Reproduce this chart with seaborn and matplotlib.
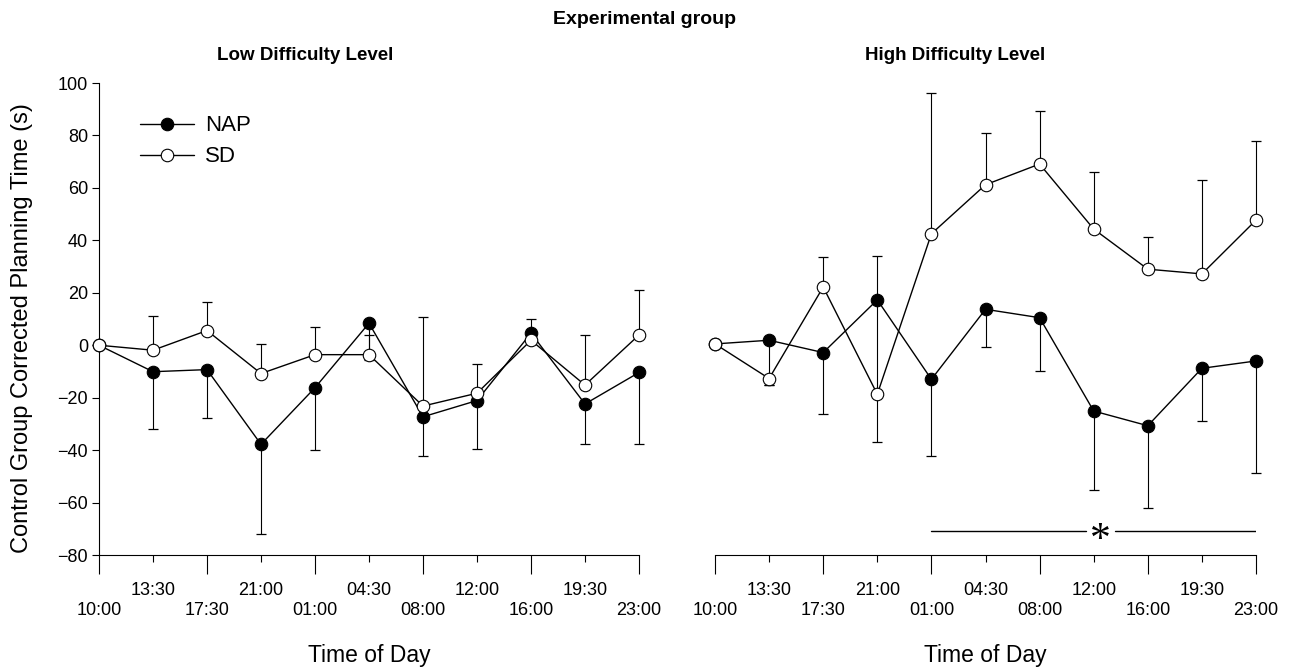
import numpy as np
import pandas as pd
import matplotlib
matplotlib.use("Agg")
import matplotlib.pyplot as plt
import seaborn as sns

sns.set_style("ticks")
plt.rcParams["font.family"] = ["Liberation Sans", "DejaVu Sans"]
for k in ["text.color", "axes.labelcolor", "xtick.color", "ytick.color",
          "axes.edgecolor"]:
    plt.rcParams[k] = "black"

# ---- data ----
times = ["10:00", "13:30", "17:30", "21:00", "01:00", "04:30",
         "08:00", "12:00", "16:00", "19:30", "23:00"]

low_nap = [0, -10.1, -9.3, -37.8, -16.2, 8.4, -27.3, -21.1, 4.6, -22.4, -10.4]
low_sd = [0, -1.9, 5.6, -10.8, -3.6, -3.6, -23.2, -18.3, 1.9, -15.2, 3.9]
# one-sided error extents
low_nap_err_down = [0, 21.9, 18.6, 34.3, 23.8, 14.1, 15.1, 18.3, 2.0, 15.4, 27.4]
low_nap_err_up = [0] * 11
low_sd_err_up = [0, 13.1, 10.8, 11.3, 10.4, 7.6, 34.1, 11.0, 8.0, 19.0, 17.1]
low_sd_err_down = [0] * 11

high_nap = [0.5, 1.9, -2.8, 17.3, -13.0, 13.7, 10.5, -25.1, -30.7, -8.8, -6.0]
high_sd = [0.5, -12.7, 22.2, -18.7, 42.5, 61.2, 69.1, 44.3, 29.0, 27.2, 47.7]
high_nap_err_down = [0, 17.1, 23.5, 36.0, 29.3, 14.2, 20.3, 30.1, 31.5, 20.0, 42.9]
high_nap_err_up = [0, 0, 0, 16.7, 0, 0, 0, 0, 0, 0, 0]
high_sd_err_up = [0, 0, 11.3, 0, 53.6, 19.9, 20.2, 21.7, 12.4, 35.9, 30.3]
high_sd_err_down = [0, 2.5, 0, 18.1, 0, 0, 0, 0, 0, 0, 0]

sig_start, sig_end, sig_star, sig_y = 4, 10, 7.12, -71

major_idx = [0, 2, 4, 6, 8, 10]
minor_idx = [1, 3, 5, 7, 9]

x = np.arange(len(times))

fig = plt.figure(figsize=(12.89, 6.67), dpi=100)
W, H = 1289, 667
ax_l = fig.add_axes([99 / W, 1 - 555 / H, 540 / W, 472 / H])
ax_r = fig.add_axes([715 / W, 1 - 555 / H, 541 / W, 472 / H])


def bars(ax, ys, down, up):
    ys = np.asarray(ys, float)
    down = np.asarray(down, float)
    up = np.asarray(up, float)
    for err, sign in [(down, -1), (up, 1)]:
        m = err > 0
        if not m.any():
            continue
        z = np.zeros(m.sum())
        yerr = [err[m], z] if sign < 0 else [z, err[m]]
        ax.errorbar(x[m], ys[m], yerr=yerr, fmt="none", ecolor="black",
                    elinewidth=0.8, capsize=0, zorder=2, clip_on=False)
        ax.plot(x[m], ys[m] + sign * err[m], linestyle="none", marker="_",
                markersize=7.5, markeredgewidth=0.9, color="black", zorder=2,
                clip_on=False)


def panel(ax, nap, sd, nd, nu, sdd, sdu):
    df = pd.DataFrame({"x": np.concatenate([x, x]),
                       "y": np.concatenate([nap, sd]),
                       "group": ["NAP"] * len(x) + ["SD"] * len(x)})
    bars(ax, nap, nd, nu)
    bars(ax, sd, sdd, sdu)
    sns.lineplot(data=df[df.group == "NAP"], x="x", y="y", ax=ax, color="black",
                 marker="o", markersize=9, markerfacecolor="black",
                 markeredgecolor="black", markeredgewidth=0.8, linewidth=1.0,
                 label="NAP", zorder=3, clip_on=False)
    sns.lineplot(data=df[df.group == "SD"], x="x", y="y", ax=ax, color="black",
                 marker="o", markersize=9, markerfacecolor="white",
                 markeredgecolor="black", markeredgewidth=0.8, linewidth=1.0,
                 label="SD", zorder=4, clip_on=False)
    ax.set_xlim(0, 10)
    ax.set_ylim(-80, 100)
    ax.set_xticks(major_idx)
    ax.set_xticklabels([times[i] for i in major_idx])
    ax.set_xticks(minor_idx, minor=True)
    ax.set_xticklabels([times[i] for i in minor_idx], minor=True)
    ax.tick_params(axis="x", which="major", length=14, width=0.8, pad=19.5,
                   labelsize=13, direction="out")
    ax.tick_params(axis="x", which="minor", length=5, width=0.8, pad=14.5,
                   labelsize=13, direction="out")
    ax.set_xlabel("Time of Day", fontsize=16.5, labelpad=18)
    for s in ["top", "right"]:
        ax.spines[s].set_visible(False)
    ax.spines["bottom"].set_linewidth(0.8)
    ax.spines["left"].set_linewidth(0.8)


panel(ax_l, low_nap, low_sd, low_nap_err_down, low_nap_err_up,
      low_sd_err_down, low_sd_err_up)
panel(ax_r, high_nap, high_sd, high_nap_err_down, high_nap_err_up,
      high_sd_err_down, high_sd_err_up)

ax_l.set_yticks(np.arange(-80, 101, 20))
ax_l.tick_params(axis="y", length=5, width=0.8, pad=3, labelsize=13)
ax_l.set_ylabel("Control Group Corrected Planning Time (s)", fontsize=17)
ax_l.yaxis.set_label_coords(-0.122, 0.48)

ax_r.spines["left"].set_visible(False)
ax_r.set_yticks([])
ax_r.set_ylabel("")
if ax_r.get_legend():
    ax_r.get_legend().remove()

leg = ax_l.legend(loc="upper left", bbox_to_anchor=(0.06, 0.95), frameon=False,
                  fontsize=16, handlelength=2.4, handletextpad=0.5,
                  labelspacing=0.45, borderaxespad=0)

# significance bar
gap = 0.27
ax_r.plot([sig_start, sig_star - gap], [sig_y, sig_y], color="black", lw=1.0)
ax_r.plot([sig_star + gap, sig_end], [sig_y, sig_y], color="black", lw=1.0)
ax_r.text(sig_star, sig_y - 3.5, "*", fontsize=30, ha="center", va="center",
          family="Liberation Serif")

fig.text(0.5, 1 - 20 / H, "Experimental group", ha="center", va="center",
         fontsize=14, fontweight="bold")
fig.text(305 / W, 1 - 55 / H, "Low Difficulty Level", ha="center", va="center",
         fontsize=13.5, fontweight="bold")
fig.text(955 / W, 1 - 55 / H, "High Difficulty Level", ha="center", va="center",
         fontsize=13.5, fontweight="bold")

fig.savefig("out.png", dpi=100)
